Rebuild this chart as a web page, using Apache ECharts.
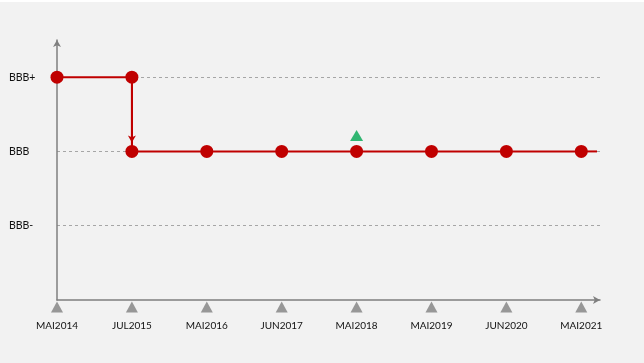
<!DOCTYPE html>
<html><head><meta charset="utf-8">
<script src="https://cdn.jsdelivr.net/npm/echarts@6/dist/echarts.min.js"></script>
<style>
html,body{margin:0;padding:0;background:#ffffff;}
#c{position:absolute;left:0;top:2px;width:644px;height:361px;background:#f2f2f2;}
</style></head>
<body><div id="c"></div>
<script>
// Timeline categories (x axis tick labels)
const categories = ['MAI2014','JUL2015','MAI2016','JUN2017','MAI2018','MAI2019','JUN2020','MAI2021'];
// Rating scale (y axis tick labels, bottom to top)
const ratingScale = ['BBB-','BBB','BBB+'];
// Rating path: [date, rating]
const ratingPath = [
  ['MAI2014','BBB+'],
  ['JUL2015','BBB+'],
  ['JUL2015','BBB'],
  ['MAI2016','BBB'],
  ['JUN2017','BBB'],
  ['MAI2018','BBB'],
  ['MAI2019','BBB'],
  ['JUN2020','BBB'],
  ['MAI2021','BBB']
];
// Downgrade arrow: [from, to]
const downgrade = [['JUL2015','BBB+'],['JUL2015','BBB']];
// Positive outlook marker
const positiveOutlook = [['MAI2018','BBB']];

const xi = c => categories.indexOf(c);
const yi = r => ratingScale.indexOf(r) + 1;
const toPt = p => [xi(p[0]), yi(p[1])];

const RED = '#c00000';
const GRAY = '#7f7f7f';
const FONT = 'Lato';

const pathData = ratingPath.map(toPt);
const last = pathData[pathData.length - 1];
const xMax = categories.length - 1 + 0.25;

const chart = echarts.init(document.getElementById('c'), null, {renderer:'canvas'});
chart.setOption({
  backgroundColor: '#f2f2f2',
  animation: false,
  grid: {left: 57, right: 44, top: 38, bottom: 63},
  xAxis: {
    type: 'value', min: 0, max: xMax, interval: 1,
    axisLine: {show: true, lineStyle: {color: GRAY, width: 1.5}, symbol: ['none','arrow'], symbolSize: [6,7]},
    axisTick: {show: false},
    splitLine: {show: false},
    axisLabel: {
      margin: 21, color: '#111', fontFamily: FONT, fontSize: 10,
      formatter: v => (Number.isInteger(v) && categories[v]) ? categories[v] : ''
    }
  },
  yAxis: {
    type: 'value', min: 0, max: 3.5, interval: 1,
    axisLine: {show: true, onZero: false, lineStyle: {color: GRAY, width: 1.5}, symbol: ['none','arrow'], symbolSize: [6,7]},
    axisTick: {show: false},
    splitLine: {show: false},
    axisLabel: {
      margin: 48, align: 'left', color: '#111', fontFamily: FONT, fontSize: 10.5,
      formatter: v => (Number.isInteger(v) && v >= 1 && ratingScale[v-1]) ? ratingScale[v-1] : ''
    }
  },
  series: [
    {
      name: 'grid', type: 'line', data: [], silent: true, z: 0,
      markLine: {
        silent: true, z: 0, symbol: ['none','none'], label: {show: false},
        lineStyle: {color: '#a6a6a6', width: 1, type: [3,3]},
        data: ratingScale.map((r, i) => ({yAxis: i + 1}))
      }
    },
    {
      name: 'ticks', type: 'scatter', symbol: 'triangle', symbolSize: [12,11], symbolOffset: [0, 7],
      itemStyle: {color: GRAY}, silent: true, z: 1,
      data: categories.map((c, i) => [i, 0])
    },
    {
      name: 'tail', type: 'line', symbol: 'none', silent: true, z: 3,
      lineStyle: {color: RED, width: 2},
      data: [last, [last[0] + 0.21, last[1]]]
    },
    {
      name: 'rating', type: 'line', symbol: 'circle', symbolSize: 13,
      itemStyle: {color: RED}, lineStyle: {color: RED, width: 2},
      data: pathData, z: 4,
      markLine: {
        silent: true, z: 4, symbol: ['none','arrow'], symbolSize: [6,7], symbolOffset: [0, [0, 9]],
        label: {show: false}, lineStyle: {color: RED, width: 2, type: 'solid'},
        data: [[{coord: toPt(downgrade[0])}, {coord: toPt(downgrade[1])}]]
      }
    },
    {
      name: 'outlook', type: 'scatter', symbol: 'triangle', symbolSize: [13,11], symbolOffset: [0, -16],
      itemStyle: {color: '#00a651'}, z: 5,
      data: positiveOutlook.map(toPt)
    }
  ]
});
</script></body></html>
